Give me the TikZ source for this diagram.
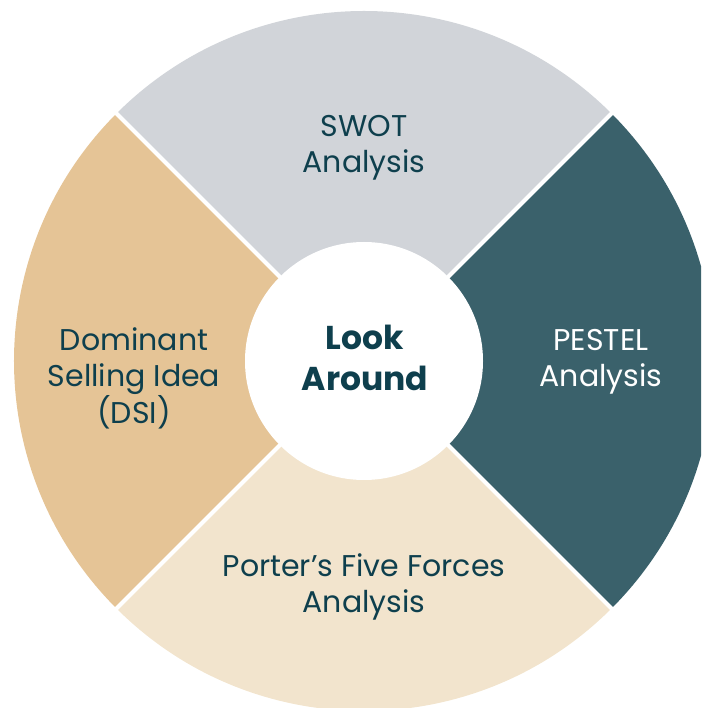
\documentclass[tikz,border=0pt]{standalone}
\usepackage{fontspec}
\setmainfont{Poppins}
\definecolor{swotgray}{HTML}{D1D4D9}
\definecolor{pestelteal}{HTML}{3A616B}
\definecolor{dsitan}{HTML}{E5C496}
\definecolor{portercream}{HTML}{F2E4CD}
\definecolor{textteal}{HTML}{0E3F4D}
\tikzset{
  segtext/.style={align=center, text=textteal, font=\fontsize{30}{36}\selectfont, inner sep=0pt},
  sepline/.style={white, line width=4pt},
}
\begin{document}
\begin{tikzpicture}[x=1pt,y=1pt]
\useasboundingbox (-364,-347) rectangle (337,361);
\begin{scope}
\clip (-364,-347) rectangle (337,361);
\fill[swotgray] (0,0) -- (45:350) arc[start angle=45, end angle=135, radius=350] -- cycle;
\fill[dsitan] (0,0) -- (135:350) arc[start angle=135, end angle=225, radius=350] -- cycle;
\fill[portercream] (0,0) -- (225:350) arc[start angle=225, end angle=315, radius=350] -- cycle;
\fill[pestelteal] (0,0) -- (-45:350) arc[start angle=-45, end angle=45, radius=350] -- cycle;
\coordinate (c) at (0,0);
\coordinate (ne) at (45:360);
\coordinate (nw) at (135:360);
\coordinate (sw) at (225:360);
\coordinate (se) at (315:360);
\draw[sepline] (c) -- (ne);
\draw[sepline] (c) -- (nw);
\draw[sepline] (c) -- (sw);
\draw[sepline] (c) -- (se);
\fill[white] (c) circle[radius=119];
\end{scope}
\node[segtext] (swot) at (0,213.5) {SWOT\\Analysis};
\node[segtext, text=white] (pestel) at (237,-1) {PESTEL\\Analysis};
\node[segtext] (dsi) at (-230,-17) {Dominant\\Selling Idea\\(DSI)};
\node[segtext] (porter) at (0,-226) {Porter’s Five Forces\\Analysis};
\node[align=center, text=textteal, font=\fontsize{33}{41}\bfseries\selectfont, inner sep=0pt] (look) at (1,3) {Look\\Around};
\end{tikzpicture}
\end{document}
